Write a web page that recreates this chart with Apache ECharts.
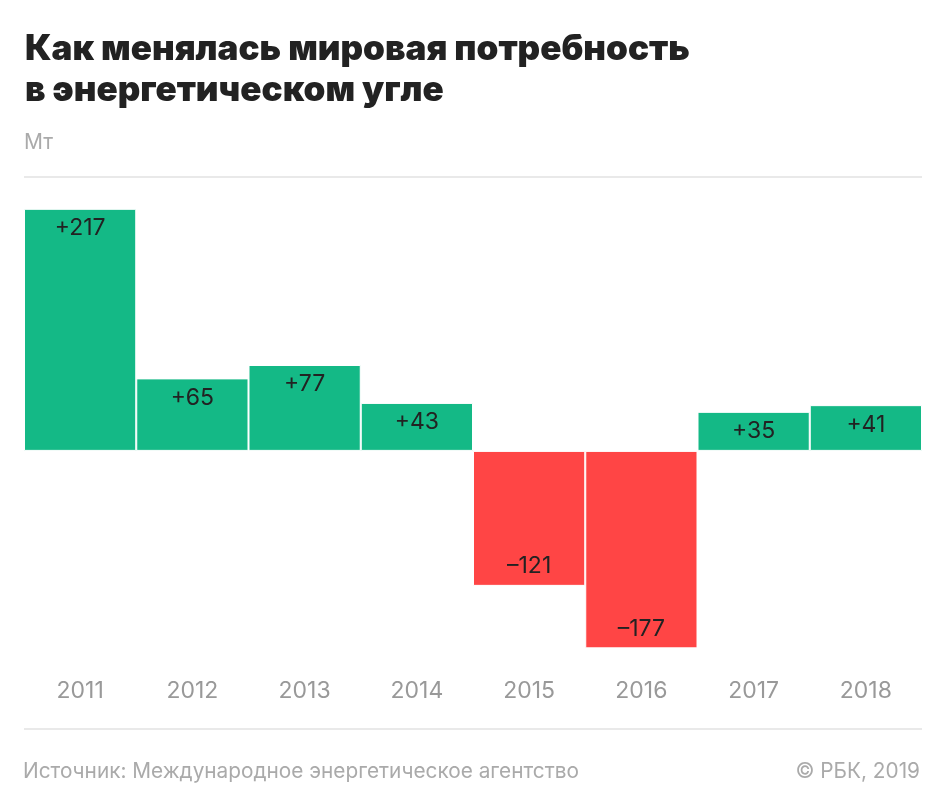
<!DOCTYPE html>
<html><head><meta charset="utf-8">
<script src="https://cdn.jsdelivr.net/npm/echarts@6/dist/echarts.min.js"></script>
<style>html,body{margin:0;padding:0;background:#fff}#c{width:945px;height:808px}</style>
</head><body><div id="c"></div>
<script>
const years = ['2011','2012','2013','2014','2015','2016','2017','2018'];
const values = [217, 65, 77, 43, -121, -177, 35, 41];
const titleLines = ['Как менялась мировая потребность', 'в энергетическом угле'];
const unitLabel = 'Мт';
const sourceText = 'Источник: Международное энергетическое агентство';
const copyrightText = '© РБК, 2019';

const FONT = 'Inter, Roboto, "Noto Sans", sans-serif';
const GREEN = '#14b986', RED = '#ff4545';

const chart = echarts.init(document.getElementById('c'));
chart.setOption({
  animation: false,
  backgroundColor: '#fff',
  title: [{
    text: titleLines.join('\n'), left: 20, top: 24,
    textStyle: {fontFamily: FONT, fontWeight: 900, fontSize: 35, lineHeight: 41, color: '#222'}
  }, {
    text: unitLabel, left: 19, top: 127,
    textStyle: {fontFamily: FONT, fontWeight: 'normal', fontSize: 21, color: '#aaa'}
  }, {
    text: sourceText, left: 18, top: 756,
    textStyle: {fontFamily: FONT, fontWeight: 'normal', fontSize: 20.8, color: '#aaa'}
  }, {
    text: copyrightText, right: 20, top: 756,
    textStyle: {fontFamily: FONT, fontWeight: 'normal', fontSize: 20.8, color: '#aaa'}
  }],
  graphic: [
    {type: 'line', shape: {x1: 24, y1: 177, x2: 922, y2: 177}, style: {stroke: '#e2e2e2', lineWidth: 1.5}},
    {type: 'line', shape: {x1: 24, y1: 729, x2: 922, y2: 729}, style: {stroke: '#e2e2e2', lineWidth: 1.5}}
  ],
  grid: {left: 24, right: 23, top: 172, bottom: 134, containLabel: false},
  xAxis: {
    type: 'category', data: years,
    axisLine: {show: false, onZero: false}, axisTick: {show: false},
    axisLabel: {fontFamily: FONT, fontSize: 23, color: '#999', margin: 6}
  },
  yAxis: {
    type: 'value', min: -200, max: 250,
    show: false, splitLine: {show: false}
  },
  series: [{
    type: 'bar',
    barCategoryGap: 0,
    data: values.map(v => ({
      value: v,
      itemStyle: {color: v >= 0 ? GREEN : RED},
      label: {position: v >= 0 ? 'insideTop' : 'insideBottom'}
    })),
    itemStyle: {borderColor: '#fff', borderWidth: 1},
    label: {
      show: true, distance: 8,
      fontFamily: FONT, fontSize: 23, color: '#222',
      formatter: p => (p.value > 0 ? '+' : '\u2013') + Math.abs(p.value)
    }
  }]
});
</script></body></html>
